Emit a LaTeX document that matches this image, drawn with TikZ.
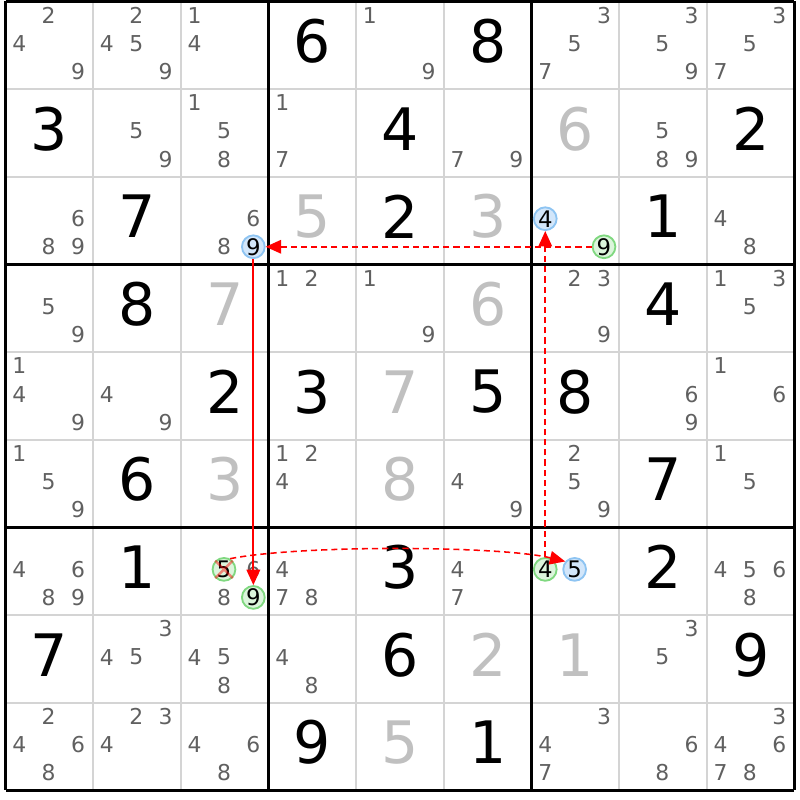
\documentclass[tikz,border=0pt]{standalone}
\usepackage{fontspec}
\setmainfont{DejaVu Sans}
\usetikzlibrary{arrows.meta}
\definecolor{candGray}{RGB}{96,96,96}
\definecolor{solvedGray}{RGB}{192,192,192}
\definecolor{thinGray}{RGB}{212,212,212}
\definecolor{blueFill}{RGB}{210,230,250}
\definecolor{blueRim}{RGB}{142,196,242}
\definecolor{greenFill}{RGB}{220,245,220}
\definecolor{greenRim}{RGB}{128,216,128}
\begin{document}
\begin{tikzpicture}
[x=1cm,y=-1cm,
  givenDigit/.style={inner sep=0pt,font=\fontsize{19}{19}\selectfont},%
  solvedDigit/.style={givenDigit,text=solvedGray},%
  candDigit/.style={inner sep=0pt,text=candGray,font=\fontsize{7.1}{7.1}\selectfont},%
  candBlue/.style={shape=circle,inner sep=-0.4pt,minimum size=0.26cm,
    draw=blueRim,fill=blueFill,line width=0.6pt,font=\fontsize{7.4}{7.4}\selectfont},%
  candGreen/.style={candBlue,draw=greenRim,fill=greenFill},%
  thinLine/.style={draw=thinGray,line width=0.65pt},%
  boxLine/.style={draw=black,line width=1pt},%
  linkStrong/.style={draw=red,line width=0.6pt,-{Triangle[length=5pt,width=4.4pt]}},%
  linkWeak/.style={linkStrong,line width=0.5pt,dash pattern=on 2pt off 1.3pt},%
  crossMark/.style={draw=red,opacity=0.45,line width=0.8pt}]
\useasboundingbox (-0.063,-0.015) rectangle (9.063,9.11);
%% grid lines
\foreach \i in {1,2,4,5,7,8}
{
  \path[thinLine] (\i,0) -- (\i,9) (0,\i) -- (9,\i);
}
\foreach \i in {0,3,6,9}
{
  \path[boxLine] (\i,0) -- (\i,9) (0,\i) -- (9,\i);
}
%% given digits
\foreach \row/\col/\dig in {
  1/4/6, 1/6/8, 2/1/3, 2/5/4, 2/9/2, 3/2/7, 3/5/2, 3/8/1,
  4/2/8, 4/8/4, 5/3/2, 5/4/3, 5/6/5, 5/7/8, 6/2/6, 6/8/7,
  7/2/1, 7/5/3, 7/8/2, 8/1/7, 8/5/6, 8/9/9, 9/4/9, 9/6/1}
{
  \node (g\row\col) at (\col-0.5,\row-0.545) [givenDigit] {\dig};
}
%% solved digits
\foreach \row/\col/\dig in {
  2/7/6, 3/4/5, 3/6/3, 4/3/7, 4/6/6, 5/5/7, 6/3/3, 6/5/8,
  8/6/2, 8/7/1, 9/5/5}
{
  \node (s\row\col) at (\col-0.5,\row-0.545) [solvedDigit] {\dig};
}
%% candidates
\foreach \row/\col/\cands in {
  1/1/{2,4,9}, 1/2/{2,4,5,9}, 1/3/{1,4}, 1/5/{1,9}, 1/7/{3,5,7},
  1/8/{3,5,9}, 1/9/{3,5,7},
  2/2/{5,9}, 2/3/{1,5,8}, 2/4/{1,7}, 2/6/{7,9}, 2/8/{5,8,9},
  3/1/{6,8,9}, 3/3/{6,8}, 3/9/{4,8},
  4/1/{5,9}, 4/4/{1,2}, 4/5/{1,9}, 4/7/{2,3,9}, 4/9/{1,3,5},
  5/1/{1,4,9}, 5/2/{4,9}, 5/8/{6,9}, 5/9/{1,6},
  6/1/{1,5,9}, 6/4/{1,2,4}, 6/6/{4,9}, 6/7/{2,5,9}, 6/9/{1,5},
  7/1/{4,6,8,9}, 7/3/{6,8}, 7/4/{4,7,8}, 7/6/{4,7}, 7/9/{4,5,6,8},
  8/2/{3,4,5}, 8/3/{4,5,8}, 8/4/{4,8}, 8/8/{3,5},
  9/1/{2,4,6,8}, 9/2/{2,3,4}, 9/3/{4,6,8}, 9/7/{3,4,7}, 9/8/{6,8},
  9/9/{3,4,6,7,8}}
{
  \foreach \dig in \cands
  {
    \pgfmathsetmacro\px{\col-1+0.157+0.335*mod(\dig-1,3)}
    \pgfmathsetmacro\py{\row-1+0.16+0.32*floor((\dig-1)/3)}
    \node (r\row c\col n\dig) at (\px,\py) [candDigit] {\dig};
  }
}
%% marked candidates
\foreach \row/\col/\dig/\kind in {
  3/3/9/candBlue, 3/7/4/candBlue, 3/7/9/candGreen, 7/3/5/candGreen,
  7/3/9/candGreen, 7/7/4/candGreen, 7/7/5/candBlue}
{
  \pgfmathsetmacro\px{\col-1+0.157+0.335*mod(\dig-1,3)}
  \pgfmathsetmacro\py{\row-1+0.16+0.32*floor((\dig-1)/3)}
  \node (r\row c\col n\dig) at (\px,\py) [\kind] {\dig};
}
\path[crossMark] (r7c3n5.45) -- (r7c3n5.225) (r7c3n5.135) -- (r7c3n5.315);
%% links
\path[linkWeak] (r3c7n9) -- (r3c3n9);
\path[linkStrong] (r3c3n9) -- (r7c3n9);
\path[linkWeak] (r7c7n4) -- (r3c7n4);
\path[linkWeak] (r7c3n5.60) .. controls +(0.8,-0.16) and +(-0.74,-0.18) .. (r7c7n5.140);
\end{tikzpicture}
\end{document}
